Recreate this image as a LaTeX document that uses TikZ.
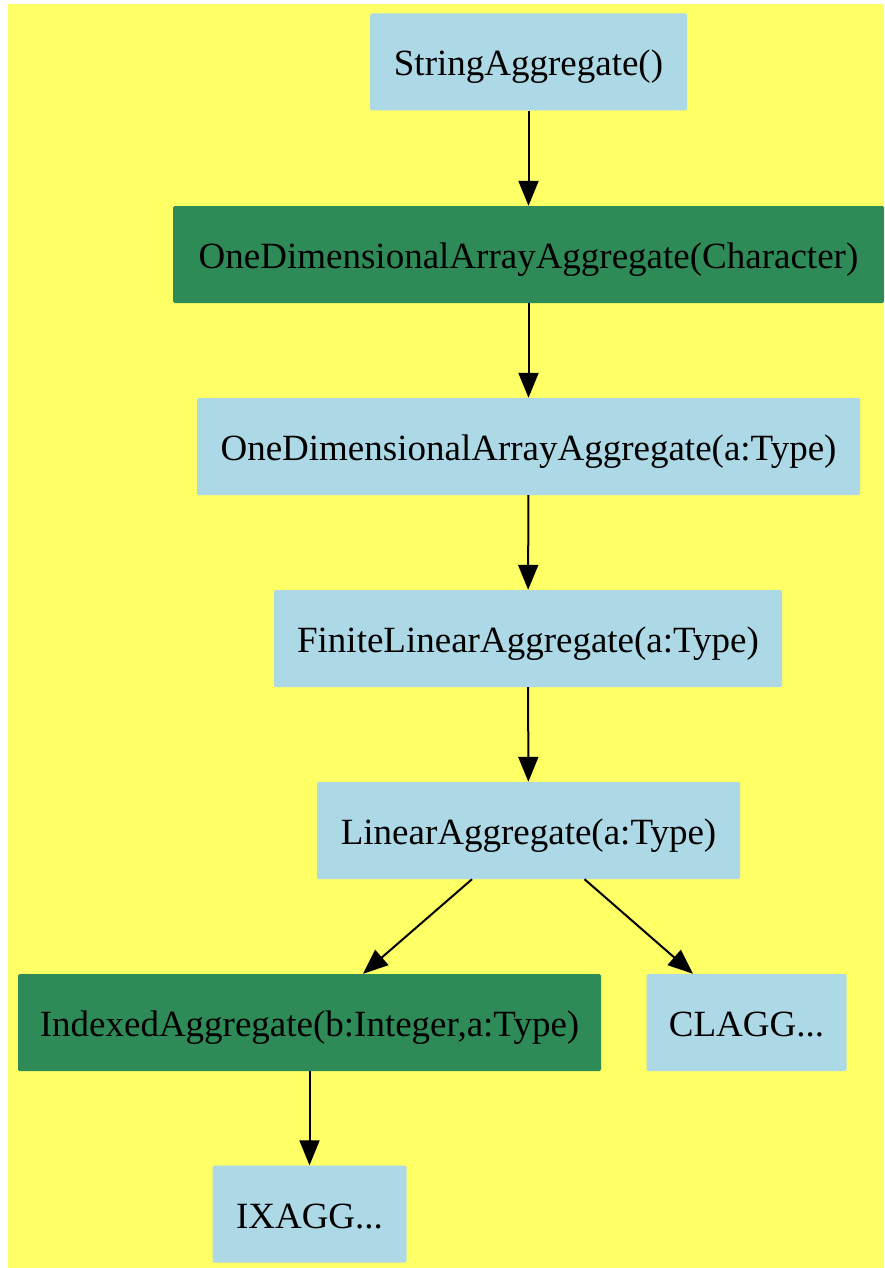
\documentclass[tikz,border=0pt]{standalone}
\usepackage{fontspec}
\setmainfont{Liberation Serif}
\usetikzlibrary{arrows.meta,positioning}
\definecolor{AggYellow}{HTML}{FFFF66}
\definecolor{AggBlue}{HTML}{ADD8E6}
\definecolor{AggGreen}{HTML}{2E8B57}
\tikzset{
  aggbox/.style={fill=AggBlue, rounded corners=1.5pt, inner sep=0pt, minimum height=97pt, text height=28pt, text depth=0pt, font=\fontsize{37}{44}\selectfont},
  aggdom/.style={aggbox, fill=AggGreen},
  aggedge/.style={line width=2pt, -{Triangle[length=25pt,width=20pt]}},
}
\begin{document}
\begin{tikzpicture}[x=1pt,y=-1pt]
\useasboundingbox (0,0) rectangle (884,1268);
\fill[AggYellow] (8,4) rectangle (884,1268);
% chain of categories
\node[aggbox, minimum width=317pt] (strAgg) at (528.5,62) {StringAggregate()};
\node[aggdom, minimum width=711pt] (oneDimChar) at (528.5,254.5) {OneDimensionalArrayAggregate(Character)};
\node[aggbox, minimum width=663pt] (oneDimType) at (528.5,446.5) {OneDimensionalArrayAggregate(a:Type)};
\node[aggbox, minimum width=508pt] (finLin) at (528,638.5) {FiniteLinearAggregate(a:Type)};
\node[aggbox, minimum width=423pt] (linAgg) at (528.5,830.5) {LinearAggregate(a:Type)};
% branches
\node[aggdom, minimum width=583pt] (idxAgg) at (309.5,1022.5) {IndexedAggregate(b:Integer,a:Type)};
\node[aggbox, minimum width=200pt] (clagg) at (746.5,1022.5) {CLAGG...};
\node[aggbox, minimum width=194pt] (ixagg) at (309.5,1214) {IXAGG...};
% edges
\draw[aggedge] (strAgg) -- (oneDimChar);
\draw[aggedge] (oneDimChar) -- (oneDimType);
\draw[aggedge] (oneDimType) -- (finLin);
\draw[aggedge] (finLin) -- (linAgg);
\draw[aggedge] ([xshift=-56.5pt]linAgg.south) -- ([xshift=53.5pt]idxAgg.north);
\draw[aggedge] ([xshift=56pt]linAgg.south) -- ([xshift=-53.5pt]clagg.north);
\draw[aggedge] (idxAgg) -- (ixagg);
\end{tikzpicture}
\end{document}
